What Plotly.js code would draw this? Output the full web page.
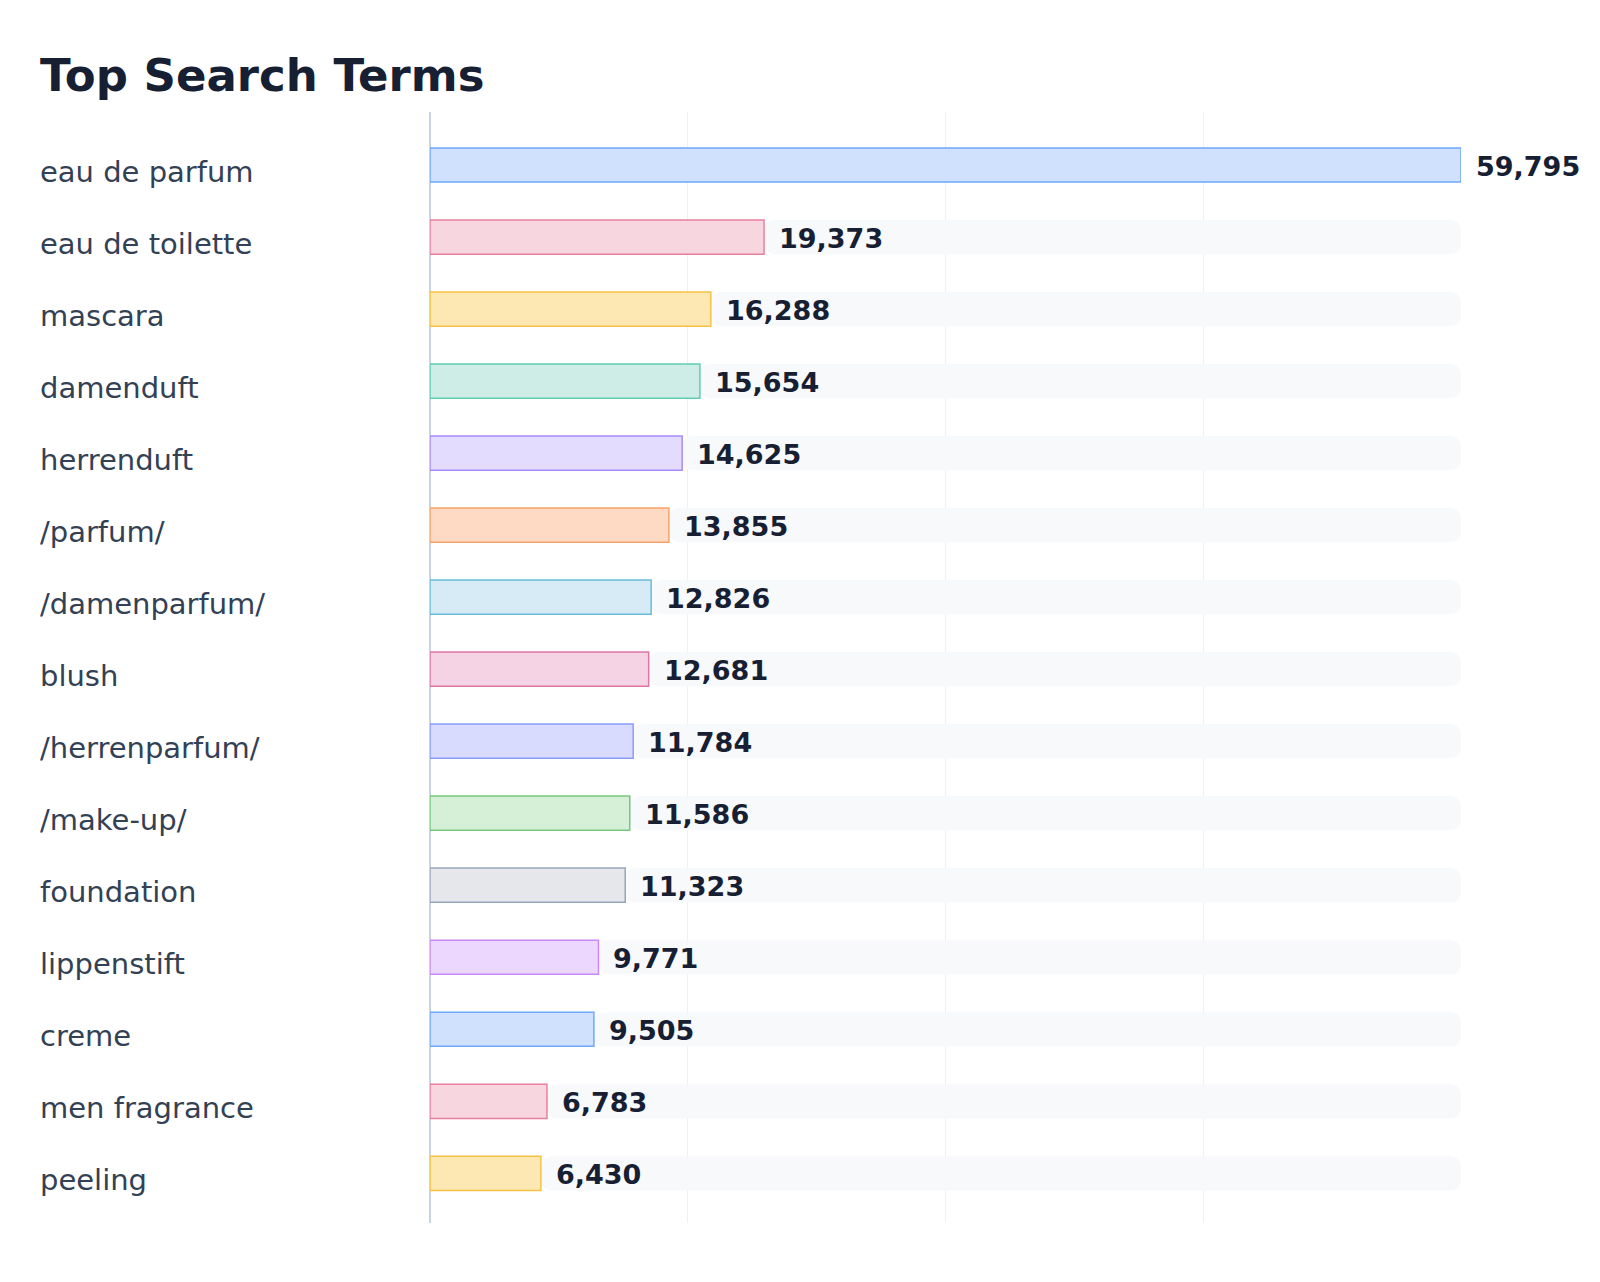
<!DOCTYPE html>
<html>
<head>
<meta charset="utf-8">
<script src="https://cdn.plot.ly/plotly-3.0.1.min.js"></script>
<style>
  html, body { margin: 0; padding: 0; background: #ffffff; }
  #plot { width: 1600px; height: 1282px; }
</style>
</head>
<body>
<div id="plot"></div>
<script>
// search terms, top to bottom
const terms = [
    'eau de parfum', 'eau de toilette', 'mascara', 'damenduft', 'herrenduft',
    '/parfum/', '/damenparfum/', 'blush', '/herrenparfum/', '/make-up/',
    'foundation', 'lippenstift', 'creme', 'men fragrance', 'peeling'
];

// number of searches per term
const searches = [
    59795, 19373, 16288, 15654, 14625,
    13855, 12826, 12681, 11784, 11586,
    11323, 9771, 9505, 6783, 6430
];

// light fill and border colour for each bar
const fillColors = [
    '#d0e1fd', '#f7d6e0', '#fde7b2', '#ceede7', '#e4dcfe',
    '#fed9c3', '#d6ebf6', '#f5d3e4', '#d9dbfe', '#d6f0d8',
    '#e5e7eb', '#ecd7fe', '#d0e1fd', '#f7d6e0', '#fde7b2'
];
const lineColors = [
    '#6ea8fb', '#e97fa0', '#f5c244', '#5ecdb3', '#a78bfa',
    '#f6a26b', '#68bcd8', '#db77a5', '#8b9cfb', '#76c67f',
    '#98a6bd', '#c88afa', '#6ea8fb', '#e97fa0', '#f5c244'
];

const maxValue = Math.max(...searches);
const FONT = 'DejaVu Sans, sans-serif';

// grey track filling the rest of each row up to the maximum
const track = {
    type: 'bar',
    orientation: 'h',
    y: terms,
    x: searches.map(v => maxValue - v),
    base: searches,
    width: 0.475,
    marker: { color: '#f8f9fb', cornerradius: 10, line: { width: 0 } },
    hoverinfo: 'skip',
    showlegend: false
};

// the actual values
const bars = {
    type: 'bar',
    orientation: 'h',
    y: terms,
    x: searches,
    width: 0.475,
    marker: {
        color: fillColors,
        line: { color: lineColors, width: 1.5 }
    },
    hovertemplate: '%{y}: %{x:,}<extra></extra>',
    showlegend: false
};

// term names, left aligned at the page edge
const termLabels = terms.map(t => ({
    xref: 'paper', yref: 'y',
    x: 0, y: t,
    xanchor: 'left', yanchor: 'middle',
    xshift: -392, yshift: -7,
    text: t,
    showarrow: false,
    font: { family: FONT, size: 29, color: '#334155' }
}));

// value labels right of each bar
const valueLabels = terms.map((t, i) => ({
    xref: 'x', yref: 'y',
    x: searches[i], y: t,
    xanchor: 'left', yanchor: 'middle',
    xshift: 13, yshift: -1,
    text: '<b>' + searches[i].toLocaleString('en-US') + '</b>',
    showarrow: false,
    font: { family: FONT, size: 27, color: '#172033' }
}));

const layout = {
    width: 1600,
    height: 1282,
    paper_bgcolor: '#ffffff',
    plot_bgcolor: '#ffffff',
    margin: { l: 430, r: 139, t: 112, b: 59 },
    barmode: 'overlay',
    title: {
        text: '<b>Top Search Terms</b>',
        font: { family: FONT, size: 45, color: '#172033' },
        xref: 'container', yref: 'container',
        x: 0.025, xanchor: 'left',
        y: 1 - 75 / 1282, yanchor: 'middle'
    },
    xaxis: {
        range: [0, maxValue],
        tickvals: [0, 0.25, 0.5, 0.75, 1].map(f => f * maxValue),
        showticklabels: false,
        showgrid: true,
        gridcolor: '#edf0f5',
        gridwidth: 1,
        zeroline: true,
        zerolinecolor: '#cbd3e1',
        zerolinewidth: 1.5,
        fixedrange: true
    },
    yaxis: {
        type: 'category',
        range: [14.69, -0.736],
        showticklabels: false,
        showgrid: false,
        zeroline: false,
        fixedrange: true
    },
    annotations: termLabels.concat(valueLabels)
};

Plotly.newPlot('plot', [track, bars], layout, { displayModeBar: false, staticPlot: true });
</script>
</body>
</html>
